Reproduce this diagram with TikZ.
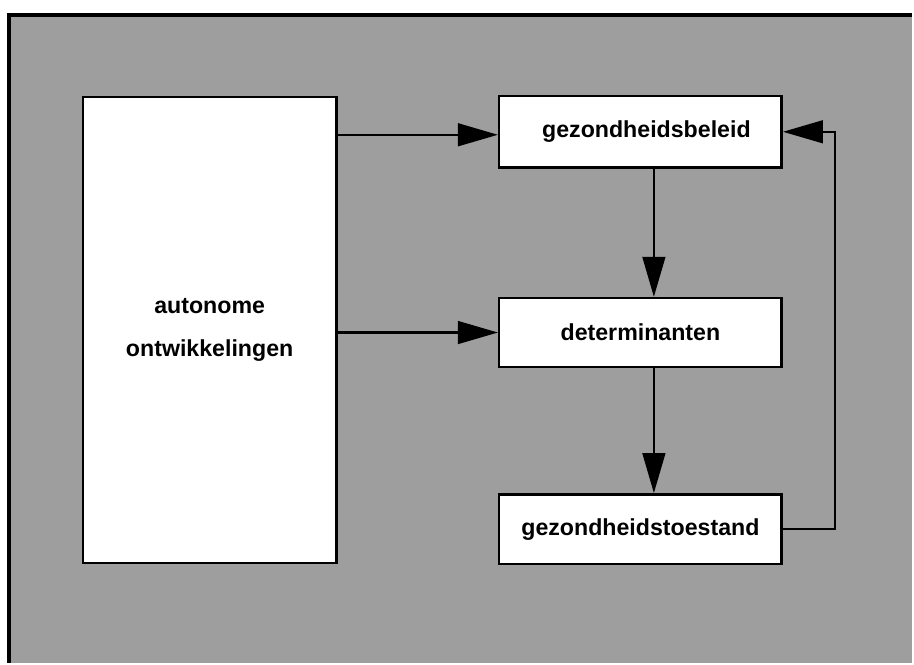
\documentclass[tikz,border=0pt]{standalone}
\usepackage{fontspec}
\setmainfont{Liberation Sans}
\usetikzlibrary{arrows.meta, positioning}

\begin{document}
\begin{tikzpicture}[x = 0.025cm, y = -0.025cm,
    box/.style = {draw, line width = 1.8pt, fill = white, inner sep = 0pt,
      align = center, font = \bfseries\fontsize{16.5}{30}\selectfont},
    conn/.style = {line width = 1.5pt, -{Triangle[length = 1cm, width = 0.57cm]}}]
  \def\W{914};
  \def\H{664};

  \begin{scope}
    \fill [white] (0,0) rectangle (\W,\H);
    \fill [black!38] (9,15) rectangle (\W,\H);
    \draw [line width = 2.2pt] (9,\H) -- (9,15) -- (\W,15);
  \end{scope}

  \node [box, minimum width = 6.35cm, minimum height = 11.675cm] (auto) at (210,330.5) {autonome\\ontwikkelingen};
  \node [box, minimum width = 7.075cm, minimum height = 1.8cm] (bel) at (641.5,132) {\hspace{0.3cm}gezondheidsbeleid};
  \node [box, minimum width = 7.075cm, minimum height = 1.725cm, below = 3.2cm of bel] (det) {determinanten};
  \node [box, minimum width = 7.075cm, minimum height = 1.75cm, below = 3.125cm of det] (toe) {gezondheidstoestand};

  \begin{scope}[conn]
    \draw (auto.east |- 0,135) -- (bel.west |- 0,135);
    \draw (auto.east |- det.west) -- (det.west);
    \draw (655,0 |- bel.south) -- (655,0 |- det.north);
    \draw (655,0 |- det.south) -- (655,0 |- toe.north);
    \draw (toe.east) -- ++(52,0) |- (bel.east);
  \end{scope}
\end{tikzpicture}
\end{document}
